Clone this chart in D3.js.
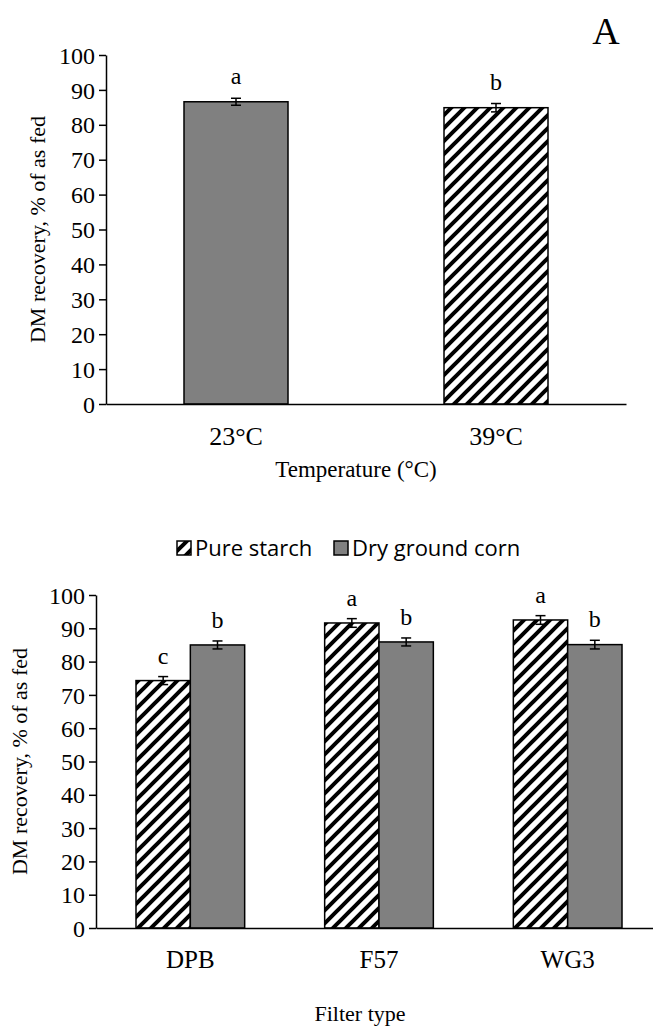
<!DOCTYPE html>
<html>
<head>
<meta charset="utf-8">
<script src="https://cdnjs.cloudflare.com/ajax/libs/d3/7.8.5/d3.min.js"></script>
<style>
  body { margin: 0; background: #fff; }
  svg text { font-family: "Liberation Serif", "Times New Roman", serif; fill: #000; }
  .legend text { font-family: "Open Sans", "Liberation Sans", sans-serif; }
</style>
</head>
<body>
<div id="chart"></div>
<script>
// Panel A: DM recovery by incubation temperature
const tempCategories = ["23°C", "39°C"];
const tempValues = [86.6, 84.9];
const tempErrors = [1.0, 1.2];
const tempLetters = ["a", "b"];
const tempFills = ["solid", "hatch"];

// Panel B: DM recovery by filter type and substrate
const filterCategories = ["DPB", "F57", "WG3"];
const seriesNames = ["Pure starch", "Dry ground corn"];
const seriesFills = ["hatch", "solid"];
const pureStarch = [74.3, 91.6, 92.5];
const pureStarchErr = [1.2, 1.3, 1.3];
const pureStarchLetters = ["c", "a", "a"];
const dryCorn = [85.0, 85.9, 85.1];
const dryCornErr = [1.2, 1.2, 1.3];
const dryCornLetters = ["b", "b", "b"];

const yTicks = [0, 10, 20, 30, 40, 50, 60, 70, 80, 90, 100];

const W = 653, H = 1030;
const GRAY = "#808080";

const svg = d3.select("#chart").append("svg")
  .attr("width", W)
  .attr("height", H);

// diagonal hatch like Excel's wide upward diagonal
const defs = svg.append("defs");
defs.append("pattern")
  .attr("id", "hatch")
  .attr("patternUnits", "userSpaceOnUse")
  .attr("width", 13)
  .attr("height", 13)
  .call(p => {
    p.append("rect").attr("width", 13).attr("height", 13).attr("fill", "#fff");
    p.append("path")
      .attr("d", "M-2,2 l4,-4 M0,13 l13,-13 M11,15 l4,-4")
      .attr("stroke", "#000")
      .attr("stroke-width", 4);
  });

function fillOf(kind) {
  return kind === "hatch" ? "url(#hatch)" : GRAY;
}

function yAxis(g, y, x0, labelSize) {
  g.attr("transform", "translate(" + x0 + ",0)")
    .call(d3.axisLeft(y).tickValues(yTicks).tickSize(7).tickSizeOuter(0).tickPadding(4))
    .call(a => a.select(".domain").attr("stroke", "#000").attr("stroke-width", 1.5))
    .call(a => a.selectAll(".tick line").attr("stroke", "#000").attr("stroke-width", 1.5))
    .call(a => a.selectAll(".tick text")
      .style("font-size", labelSize + "px")
      .style("font-family", "'Liberation Serif', serif")
      .attr("dy", "0.34em"));
}

function xAxis(g, x, y0, labelSize, pad) {
  g.attr("transform", "translate(0," + y0 + ")")
    .call(d3.axisBottom(x).tickSize(0).tickSizeOuter(0).tickPadding(pad))
    .call(a => a.select(".domain").attr("stroke", "#000").attr("stroke-width", 1.5))
    .call(a => a.selectAll(".tick text")
      .style("font-size", labelSize + "px")
      .style("font-family", "'Liberation Serif', serif"));
}

function errorBar(g, cx, y, v, e) {
  const cap = 5;
  g.append("line").attr("x1", cx).attr("x2", cx)
    .attr("y1", y(v + e)).attr("y2", y(v - e));
  g.append("line").attr("x1", cx - cap).attr("x2", cx + cap)
    .attr("y1", y(v + e)).attr("y2", y(v + e));
  g.append("line").attr("x1", cx - cap).attr("x2", cx + cap)
    .attr("y1", y(v - e)).attr("y2", y(v - e));
}

// ---------- Panel A ----------
(function drawTemp() {
  const x = d3.scaleBand()
    .domain(tempCategories)
    .range([106, 626])
    .paddingInner(0.6)
    .paddingOuter(0.3);
  const y = d3.scaleLinear().domain([0, 100]).range([404, 55]);
  const g = svg.append("g");

  g.selectAll("rect.bar")
    .data(tempCategories)
    .enter().append("rect")
    .attr("class", "bar")
    .attr("x", d => x(d))
    .attr("width", x.bandwidth())
    .attr("y", (d, i) => y(tempValues[i]))
    .attr("height", (d, i) => y(0) - y(tempValues[i]))
    .attr("fill", (d, i) => fillOf(tempFills[i]))
    .attr("stroke", "#000")
    .attr("stroke-width", 1.5);

  const eb = g.append("g").attr("stroke", "#000").attr("stroke-width", 1.5);
  tempCategories.forEach((c, i) => {
    errorBar(eb, x(c) + x.bandwidth() / 2, y, tempValues[i], tempErrors[i]);
  });

  g.selectAll("text.letter")
    .data(tempCategories)
    .enter().append("text")
    .attr("class", "letter")
    .attr("x", d => x(d) + x.bandwidth() / 2)
    .attr("y", (d, i) => y(tempValues[i] + tempErrors[i]) - 14)
    .attr("text-anchor", "middle")
    .attr("font-size", 24)
    .text((d, i) => tempLetters[i]);

  g.append("g").call(yAxis, y, 106, 24);
  g.append("g").call(xAxis, x, y(0), 26, 23);

  g.append("text")
    .attr("x", 356).attr("y", 477)
    .attr("text-anchor", "middle")
    .attr("font-size", 23)
    .text("Temperature (°C)");

  g.append("text")
    .attr("transform", "translate(45," + (y(50)) + ") rotate(-90)")
    .attr("text-anchor", "middle")
    .attr("font-size", 22)
    .text("DM recovery, % of as fed");

  g.append("text")
    .attr("x", 606).attr("y", 44)
    .attr("text-anchor", "middle")
    .attr("font-size", 38)
    .text("A");
})();

// ---------- Panel B ----------
(function drawFilter() {
  const x = d3.scaleBand()
    .domain(filterCategories)
    .range([96, 662])
    .paddingInner(0.424)
    .paddingOuter(0.212);
  const xs = d3.scaleBand()
    .domain(seriesNames)
    .range([0, x.bandwidth()]);
  const y = d3.scaleLinear().domain([0, 100]).range([928, 595]);
  const g = svg.append("g");

  const series = [
    { name: seriesNames[0], values: pureStarch, errs: pureStarchErr, letters: pureStarchLetters, fill: seriesFills[0] },
    { name: seriesNames[1], values: dryCorn, errs: dryCornErr, letters: dryCornLetters, fill: seriesFills[1] }
  ];

  series.forEach(s => {
    const sg = g.append("g");
    sg.selectAll("rect")
      .data(filterCategories)
      .enter().append("rect")
      .attr("x", d => x(d) + xs(s.name))
      .attr("width", xs.bandwidth())
      .attr("y", (d, i) => y(s.values[i]))
      .attr("height", (d, i) => y(0) - y(s.values[i]))
      .attr("fill", fillOf(s.fill))
      .attr("stroke", "#000")
      .attr("stroke-width", 1.5);

    const eb = sg.append("g").attr("stroke", "#000").attr("stroke-width", 1.5);
    filterCategories.forEach((c, i) => {
      errorBar(eb, x(c) + xs(s.name) + xs.bandwidth() / 2, y, s.values[i], s.errs[i]);
    });

    sg.selectAll("text.letter")
      .data(filterCategories)
      .enter().append("text")
      .attr("class", "letter")
      .attr("x", d => x(d) + xs(s.name) + xs.bandwidth() / 2)
      .attr("y", (d, i) => y(s.values[i] + s.errs[i]) - 13)
      .attr("text-anchor", "middle")
      .attr("font-size", 24)
      .text((d, i) => s.letters[i]);
  });

  g.append("g").call(yAxis, y, 96, 24);
  g.append("g").call(xAxis, x, y(0), 25, 22);

  g.append("text")
    .attr("x", 360).attr("y", 1021)
    .attr("text-anchor", "middle")
    .attr("font-size", 22)
    .text("Filter type");

  g.append("text")
    .attr("transform", "translate(27," + (y(50)) + ") rotate(-90)")
    .attr("text-anchor", "middle")
    .attr("font-size", 22)
    .text("DM recovery, % of as fed");

  // legend
  const lg = g.append("g").attr("class", "legend");
  const legendX = [177, 334];
  series.forEach((s, i) => {
    lg.append("rect")
      .attr("x", legendX[i]).attr("y", 541)
      .attr("width", 14).attr("height", 14)
      .attr("fill", fillOf(s.fill))
      .attr("stroke", "#000")
      .attr("stroke-width", 1.5);
    lg.append("text")
      .attr("x", legendX[i] + 18).attr("y", 556)
      .attr("font-size", 22)
      .text(s.name);
  });
})();
</script>
</body>
</html>
